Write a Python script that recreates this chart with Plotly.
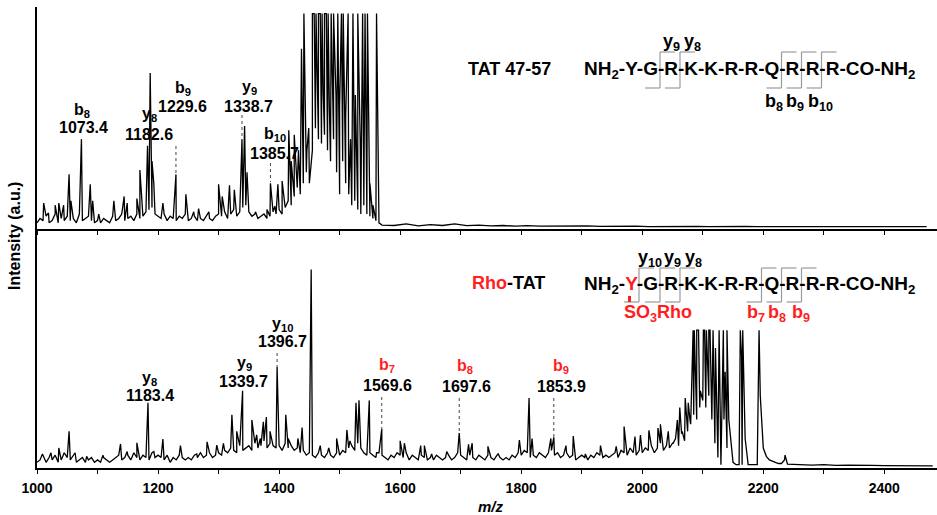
import plotly.graph_objects as go

# ---------------- DATA ----------------
# Top spectrum (TAT 47-57): main peaks (m/z, relative intensity, clipped at ~97)
top_peak_mz = [1011, 1019, 1030, 1036, 1044, 1053, 1056, 1073.4, 1088, 1092, 1102, 1127, 1144, 1149,
               1165, 1170, 1182.6, 1187, 1190, 1193, 1208, 1229.6, 1246, 1259, 1267, 1284, 1300, 1306,
               1318, 1326, 1338.7, 1343, 1347, 1361, 1380, 1385.7, 1393, 1398, 1405, 1416, 1420, 1425,
               1432, 1437, 1441, 1446, 1449, 1455, 1458, 1461, 1463, 1465, 1468, 1471, 1473, 1475, 1478,
               1481, 1483, 1486, 1490, 1494, 1497, 1500, 1503, 1506, 1510, 1514, 1518, 1522, 1526, 1530,
               1534, 1538, 1542, 1546, 1550, 1555, 1561]
top_peak_int = [11, 6.5, 10, 11, 10, 24, 12, 40, 19.5, 12, 6, 12, 14, 11,
                13, 26, 37, 70, 30, 20, 11, 24, 15, 7, 8.5, 7, 19.5, 14,
                19, 17, 40, 46, 25, 7, 8, 20, 9.5, 19.5, 21, 44, 30, 42,
                35, 81, 97, 35, 45, 97, 97, 97, 70, 97, 97, 97, 60, 97, 97,
                97, 55, 97, 97, 60, 97, 55, 97, 97, 50, 97, 40, 97, 60, 97,
                40, 97, 97, 97, 20, 10, 97]
# Top spectrum baseline, read every 5 m/z from 1000 to 1565
top_noise_start, top_noise_step = 1000, 5
top_noise = [2, 4, 3, 5, 2, 3, 6, 2, 4, 3,
             5, 3, 4, 2, 6, 3, 4, 5, 3, 2,
             3, 2, 4, 3, 2, 5, 3, 4, 6, 3,
             4, 5, 3, 6, 4, 5, 7, 8, 9, 6,
             5, 4, 6, 3, 5, 4, 3, 5, 4, 6,
             3, 4, 5, 3, 4, 3, 5, 4, 3, 5,
             6, 5, 7, 4, 6, 8, 5, 7, 9, 10,
             7, 5, 6, 4, 5, 6, 4, 5, 7, 6,
             8, 6, 9, 12, 10, 14, 18, 15, 20, 25,
             20, 35, 45, 40, 38, 42, 35, 30, 40, 25,
             15, 30, 20, 15, 10, 12, 8, 6, 10, 6,
             5, 4, 3, 2]
# Top flat tail, every 20 m/z from 1570
top_tail_start, top_tail_step = 1570, 20
top_tail = [1, 0.8, 1.5, 0.6, 1.2, 0.8, 1.5, 0.7, 1, 0.6,
            0.8, 0.5, 0.7, 0.5, 0.6, 0.4, 0.5, 0.6, 0.4, 0.5,
            0.4, 0.5, 0.3, 0.4, 0.5, 0.3, 0.4, 0.3, 0.4, 0.3,
            0.4, 0.3, 0.3, 0.4, 0.3, 0.3, 0.4, 0.3, 0.3, 0.3,
            0.3, 0.3, 0.3, 0.3, 0.3, 0.3]

# Bottom spectrum (Rho-TAT): main peaks
low_peak_mz = [1009, 1023, 1036, 1053, 1063, 1082, 1109, 1138, 1149, 1165, 1183.4, 1193, 1208, 1237,
               1264, 1281, 1297, 1308, 1322, 1330, 1339.7, 1355, 1363, 1369, 1374, 1379, 1385, 1396.7,
               1411, 1415, 1431, 1438, 1453, 1468, 1482, 1495, 1512, 1517, 1527, 1532, 1549, 1561,
               1569.6, 1600, 1607, 1634, 1640, 1652, 1677, 1697.6, 1713, 1719, 1745, 1762, 1797, 1813,
               1818, 1849, 1853.9, 1874, 1886, 1906, 1931, 1957, 1970, 1988, 1997, 2011, 2026, 2030,
               2043, 2051, 2058, 2062, 2066, 2071, 2076, 2079, 2084, 2086, 2088, 2090, 2093, 2096,
               2101, 2103, 2106, 2108, 2110, 2112, 2117, 2121, 2127, 2134, 2137, 2140, 2143, 2162,
               2164, 2166, 2193, 2236]
low_peak_int = [5.5, 6, 8, 15, 6, 4.5, 5, 9.7, 6.5, 10.2, 27, 6.5, 11.8, 9,
                5.5, 10.6, 9.2, 10, 22, 15, 32, 19.8, 13.5, 12, 19, 21, 15, 42,
                22, 12, 12, 16.6, 83, 9, 8, 12, 15.6, 11, 27, 28, 28, 6,
                16, 11, 10, 9, 9, 5.5, 6.5, 14.3, 9.5, 10, 8.7, 5.5, 11.3, 29,
                12, 12, 12.5, 9, 13, 5.5, 9, 8.7, 17, 12.8, 13.4, 15.4, 16.4, 18,
                15, 10, 19.7, 25, 15, 29, 27, 19.5, 57.5, 57.5, 40, 57.5, 57.5, 32,
                57.5, 57.5, 57.5, 45, 57.5, 57.5, 57.5, 50, 57.5, 57.5, 40, 57.5, 20, 57.5,
                47, 57.5, 57.5, 5]
low_noise_start, low_noise_step = 1000, 5
low_noise = [2, 3, 5, 2, 4, 3, 5, 2, 3, 6,
             4, 3, 5, 2, 3, 4, 2, 3, 4, 2,
             3, 2, 4, 3, 2, 3, 4, 5, 3, 4,
             5, 3, 6, 4, 3, 5, 4, 3, 6, 4,
             5, 4, 3, 5, 2, 4, 3, 5, 4, 3,
             4, 3, 5, 4, 6, 4, 5, 6, 4, 5,
             6, 5, 7, 6, 8, 7, 6, 9, 7, 8,
             9, 7, 10, 8, 9, 11, 8, 10, 9, 8,
             9, 7, 10, 8, 9, 7, 8, 6, 7, 5,
             6, 5, 4, 6, 5, 4, 6, 5, 4, 6,
             5, 7, 6, 8, 9, 7, 10, 8, 6, 5,
             6, 5, 4, 6, 5, 4, 3, 5, 4, 6,
             5, 4, 6, 3, 5, 4, 3, 5, 4, 3,
             4, 3, 5, 4, 3, 4, 5, 3, 4, 6,
             5, 4, 3, 5, 4, 3, 5, 4, 3, 5,
             4, 3, 5, 4, 3, 4, 3, 5, 4, 6,
             5, 7, 6, 4, 5, 4, 6, 5, 4, 6,
             7, 5, 6, 4, 5, 6, 4, 5, 3, 4,
             5, 4, 3, 5, 4, 6, 5, 4, 5, 4,
             5, 6, 4, 7, 6, 5, 8, 6, 5, 7,
             6, 8, 7, 9, 6, 8, 10, 7, 9, 8,
             10, 12, 9, 14, 11, 15, 18, 22, 20, 25,
             28, 25, 30, 20, 10, 4, 1, 20, 8, 15,
             2, 1, 1, 1, 12, 1, 1, 1, 1, 30,
             8, 4.5, 3, 2.5, 2, 1.5, 1.5, 3, 1.2]
low_tail_start, low_tail_step = 2260, 20
low_tail = [1, 0.8, 1, 0.7, 0.8, 0.6, 0.7, 0.6, 0.5, 0.6, 0.5, 0.5]

# Ion annotations
top_ion_names = ["b<sub>8</sub>", "y<sub>8</sub>", "b<sub>9</sub>", "y<sub>9</sub>", "b<sub>10</sub>"]
top_ion_mz = ["1073.4", "1182.6", "1229.6", "1338.7", "1385.7"]
low_ion_names = ["y<sub>8</sub>", "y<sub>9</sub>", "y<sub>10</sub>", "b<sub>7</sub>", "b<sub>8</sub>", "b<sub>9</sub>"]
low_ion_mz = ["1183.4", "1339.7", "1396.7", "1569.6", "1697.6", "1853.9"]
low_ion_red = [False, False, False, True, True, True]

x_tick_vals = [1000, 1100, 1200, 1300, 1400, 1500, 1600, 1700, 1800, 1900, 2000, 2100, 2200, 2300, 2400]
x_tick_text = ["1000", "", "1200", "", "1400", "", "1600", "", "1800", "", "2000", "", "2200", "", "2400"]

# ---------------- LAYOUT CONSTANTS ----------------
W, H = 937, 515
ML, MR, MT, MB = 37, 0, 7, 47
PW, PH = W - ML - MR, H - MT - MB
MID = 229  # pixel row of the panel split
FONT = "Liberation Sans, Arial, sans-serif"
RED = "#ff1e1e"
XR = [1000, 2487]


def px(x):
    return (x - ML) / PW


def py(y):
    return (H - MB - y) / PH


def profile(noise_start, noise_step, noise, tail_start, tail_step, tail, pk_mz, pk_int):
    pts = [(noise_start + i * noise_step, v) for i, v in enumerate(noise)]
    pts += [(tail_start + i * tail_step, v) for i, v in enumerate(tail)]
    pts += list(zip(pk_mz, pk_int))
    pts.sort(key=lambda p: p[0])
    return [p[0] for p in pts], [p[1] for p in pts]


tx, ty = profile(top_noise_start, top_noise_step, top_noise, top_tail_start, top_tail_step, top_tail,
                 top_peak_mz, top_peak_int)
lx, ly = profile(low_noise_start, low_noise_step, low_noise, low_tail_start, low_tail_step, low_tail,
                 low_peak_mz, low_peak_int)

fig = go.Figure()
fig.add_trace(go.Scatter(x=tx, y=ty, mode="lines", line=dict(color="black", width=1.3),
                         xaxis="x2", yaxis="y2", hoverinfo="skip", showlegend=False))
fig.add_trace(go.Scatter(x=lx, y=ly, mode="lines", line=dict(color="black", width=1.3),
                         xaxis="x", yaxis="y", hoverinfo="skip", showlegend=False))

split = py(MID)
axis_common = dict(showgrid=False, zeroline=False, showline=True, linecolor="black", linewidth=1.5)
fig.update_layout(
    width=W, height=H, margin=dict(l=ML, r=MR, t=MT, b=MB),
    paper_bgcolor="white", plot_bgcolor="white", showlegend=False,
    xaxis=dict(domain=[0, 1], anchor="y", range=XR, tickmode="array", tickvals=x_tick_vals,
               ticktext=x_tick_text, ticks="outside", ticklen=4, tickwidth=1.2, tickcolor="black",
               tickfont=dict(family=FONT, size=14, color="black", weight="bold"),
               ticklabelstandoff=2, **axis_common),
    xaxis2=dict(domain=[0, 1], anchor="y2", range=XR, tickmode="array", tickvals=x_tick_vals,
                ticks="outside", ticklen=4, tickwidth=1.2, tickcolor="black", showticklabels=False,
                **axis_common),
    yaxis=dict(domain=[0, split], range=[-0.4, 100], showticklabels=False, ticks="", **axis_common),
    yaxis2=dict(domain=[split, 1], range=[-0.8, 100], showticklabels=False, ticks="", **axis_common),
)

ann = []
shapes = []


def label(x, y, text, size=16, color="black", xanchor="center", extra=None):
    d = dict(xref="paper", yref="paper", x=px(x), y=py(y), text=text, showarrow=False,
             xanchor=xanchor, yanchor="middle", font=dict(family=FONT, size=size, color=color))
    if extra:
        d.update(extra)
    ann.append(d)


# ion labels, top panel
top_label_pos = [(81.7, 110, 83, 127.7), (149, 115, 149, 134.3), (183, 88.3, 182.5, 106.7),
                 (249, 87.3, 248, 106.7), (275, 135, 274, 153.3)]
top_dotted = [None, None, (146, 173), (115, 137), (163, 182)]
for name, mz, pos, dot in zip(top_ion_names, top_ion_mz, top_label_pos, top_dotted):
    label(pos[0], pos[1], "<b>" + name + "</b>")
    label(pos[2], pos[3], "<b>" + mz + "</b>")
    if dot:
        shapes.append(dict(type="line", xref="x2", yref="paper", x0=float(mz), x1=float(mz),
                           y0=py(dot[0]), y1=py(dot[1]), line=dict(color="#444", width=1, dash="dot")))

low_label_pos = [(149.5, 378.3, 149.5, 395.7), (244.5, 363.3, 243.5, 381.7), (282, 324, 282.5, 341),
                 (387, 365, 387, 385), (465, 366.7, 466.7, 386), (561, 366.7, 561.3, 386)]
low_dotted = [None, None, (353, 367), (397, 430), (398, 433), (398, 438)]
for name, mz, red, pos, dot in zip(low_ion_names, low_ion_mz, low_ion_red, low_label_pos, low_dotted):
    label(pos[0], pos[1], "<b>" + name + "</b>", color=RED if red else "black")
    label(pos[2], pos[3], "<b>" + mz + "</b>")
    if dot:
        shapes.append(dict(type="line", xref="x", yref="paper", x0=float(mz), x1=float(mz),
                           y0=py(dot[0]), y1=py(dot[1]), line=dict(color="#444", width=1, dash="dot")))

# peptide annotations
SEQ = "-Y-G-R-K-K-R-R-Q-R-R-R-CO-NH<sub>2</sub>"
label(466, 69, "<b>TAT 47-57</b>", size=18, xanchor="left")
label(582, 70, "<b>NH<sub>2</sub>" + SEQ + "</b>", size=19, xanchor="left")
label(470, 283, "<b><span style='color:%s'>Rho</span>-TAT</b>" % RED, size=18, xanchor="left")
label(582, 285, "<b>NH<sub>2</sub>-<span style='color:%s'>Y</span>" % RED + SEQ[2:] + "</b>",
      size=19, xanchor="left")

label(671, 43, "<b>y<sub>9</sub></b>", size=18)
label(692.5, 43, "<b>y<sub>8</sub></b>", size=18)
label(774, 103, "<b>b<sub>8</sub></b>", size=18)
label(795, 103, "<b>b<sub>9</sub></b>", size=18)
label(820, 103, "<b>b<sub>10</sub></b>", size=18)

label(650, 258, "<b>y<sub>10</sub></b>", size=18)
label(672, 258, "<b>y<sub>9</sub></b>", size=18)
label(693, 258, "<b>y<sub>8</sub></b>", size=18)
label(622, 313, "<b>SO<sub>3</sub>Rho</b>", size=18, color=RED, xanchor="left")
label(756, 313, "<b>b<sub>7</sub></b>", size=18, color=RED)
label(777, 313, "<b>b<sub>8</sub></b>", size=18, color=RED)
label(801, 313, "<b>b<sub>9</sub></b>", size=18, color=RED)

# brackets marking cleavage sites
BR = "#9a9a9a"


def bracket(x, ytop, ybot, arm=15):
    for (x0, y0, x1, y1) in [(x, ytop, x, ybot), (x, ytop, x + arm, ytop), (x - arm, ybot, x, ybot)]:
        shapes.append(dict(type="line", xref="paper", yref="paper", x0=px(x0), x1=px(x1),
                           y0=py(y0), y1=py(y1), line=dict(color=BR, width=1.2)))


for x in [660, 680, 781.5, 801.5, 821.5]:
    bracket(x, 52, 88)
for x in [639, 660, 680, 761.5, 781.5, 801.5]:
    bracket(x, 268, 302)

shapes.append(dict(type="line", xref="paper", yref="paper", x0=px(629.5), x1=px(629.5),
                   y0=py(296), y1=py(302), line=dict(color=RED, width=3)))

# axis titles
label(15, 236, "<b>Intensity (a.u.)</b>", size=16, extra=dict(textangle=-90))
label(491, 506, "<b><i>m/z</i></b>", size=15)

fig.update_layout(annotations=ann, shapes=shapes)
fig.write_html("out.html")
